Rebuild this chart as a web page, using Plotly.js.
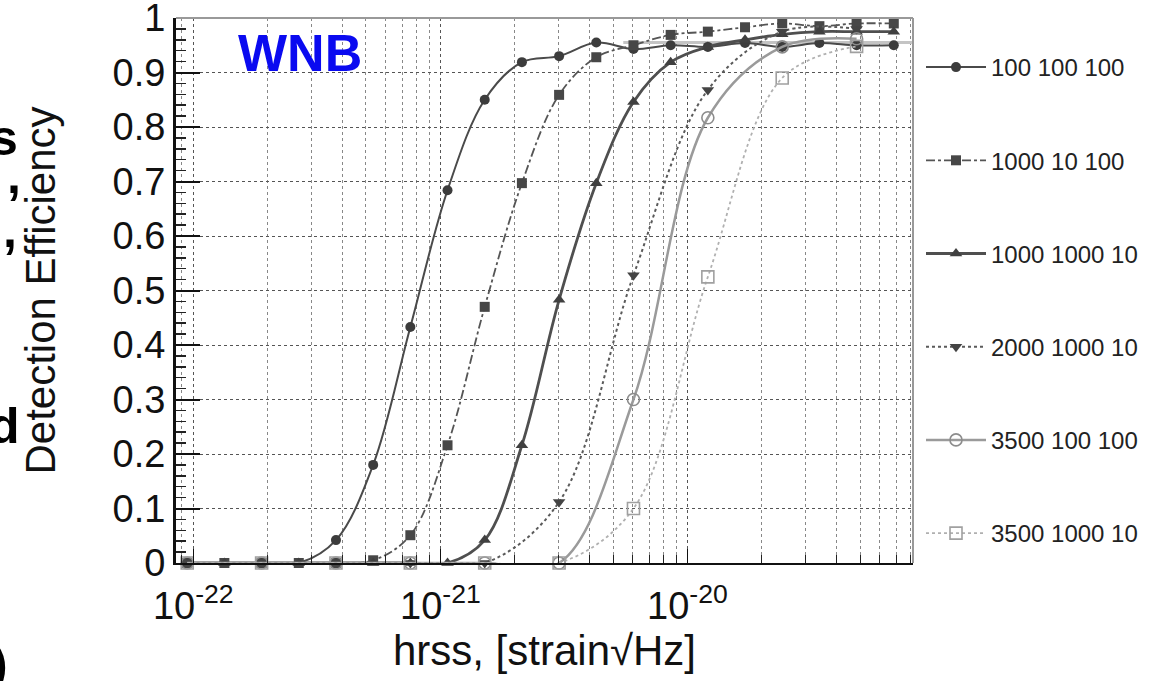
<!DOCTYPE html>
<html>
<head>
<meta charset="utf-8">
<script src="https://cdn.plot.ly/plotly-3.0.1.min.js"></script>
<style>html,body{margin:0;padding:0;background:#fff;}#chart{width:1156px;height:681px;}</style>
</head>
<body>
<div id="chart"></div>
<script>
// x positions (hrss) of the injections
const hrssAll = [9.45e-23, 1.336e-22, 1.89e-22, 2.673e-22, 3.78e-22, 5.346e-22, 7.56e-22, 1.069e-21, 1.512e-21, 2.138e-21,
                 3.024e-21, 4.277e-21, 6.048e-21, 8.553e-21, 1.2096e-20, 1.7106e-20, 2.419e-20, 3.421e-20, 4.838e-20, 6.843e-20];
const hrssEven = [9.45e-23, 1.89e-22, 3.78e-22, 7.56e-22, 1.512e-21, 3.024e-21, 6.048e-21, 1.2096e-20, 2.419e-20, 4.838e-20];

const seriesNames = ["100 100 100", "1000 10 100", "1000 1000 10", "2000 1000 10", "3500 100 100", "3500 1000 10"];

const eff_100_100_100   = [0, 0, 0, 0, 0.042, 0.18, 0.433, 0.684, 0.85, 0.919, 0.93, 0.955, 0.943, 0.95, 0.947, 0.954, 0.947, 0.954, 0.95, 0.95];
const eff_1000_10_100   = [0, 0, 0, 0, 0, 0.005, 0.051, 0.216, 0.47, 0.697, 0.859, 0.928, 0.95, 0.969, 0.975, 0.983, 0.99, 0.985, 0.99, 0.99];
const eff_1000_1000_10  = [0, 0, 0, 0, 0, 0, 0, 0, 0.042, 0.216, 0.483, 0.697, 0.846, 0.919, 0.947, 0.96, 0.97, 0.975, 0.975, 0.975];
const eff_2000_1000_10  = [0, 0, 0, 0, 0, 0.112, 0.528, 0.868, 0.975, 0.98];
const eff_3500_100_100  = [0, 0, 0, 0, 0, 0, 0.30, 0.817, 0.947, 0.962];
const eff_3500_1000_10  = [0, 0, 0, 0, 0, 0, 0.10, 0.525, 0.89, 0.948];

// light grey plateau line seen in the upper right
const plateauX = [5.5e-21, 8.1e-20];
const plateauY = [0.955, 0.955];

const xTickVals = [1e-22, 1e-21, 1e-20];
const xTickText = ["10<sup>-22</sup>", "10<sup>-21</sup>", "10<sup>-20</sup>"];
const yTickVals = [0, 0.1, 0.2, 0.3, 0.4, 0.5, 0.6, 0.7, 0.8, 0.9, 1];
const yTickText = ["0", "0.1", "0.2", "0.3", "0.4", "0.5", "0.6", "0.7", "0.8", "0.9", "1"];

const FONT = "Liberation Sans, Arial, Helvetica, sans-serif";

function mk(name, x, y, lineColor, lineWidth, dash, symbol, mColor, mSize, group) {
  const open = symbol.indexOf("open") >= 0;
  return {
    type: "scatter", mode: "lines+markers", name: name, x: x, y: y,
    legendgroup: group, cliponaxis: false,
    line: {color: lineColor, width: lineWidth, dash: dash, shape: "spline", smoothing: 1},
    marker: {symbol: symbol, size: mSize, color: mColor,
             line: {color: mColor, width: open ? 1.6 : 0}}
  };
}

const traces = [
  {type: "scatter", mode: "lines", x: plateauX, y: plateauY, showlegend: false, hoverinfo: "skip",
   line: {color: "#c4c4c4", width: 3}},
  mk(seriesNames[0], hrssAll, eff_100_100_100, "#4a4a4a", 2, "solid", "circle", "#3c3c3c", 10, "g1"),
  mk(seriesNames[1], hrssAll, eff_1000_10_100, "#555555", 1.8, "dashdot", "square", "#474747", 10, "g2"),
  mk(seriesNames[2], hrssAll, eff_1000_1000_10, "#4f4f4f", 2.8, "solid", "triangle-up", "#404040", 11, "g3"),
  mk(seriesNames[3], hrssEven, eff_2000_1000_10, "#5a5a5a", 2, "dot", "triangle-down", "#444444", 11, "g4"),
  mk(seriesNames[4], hrssEven, eff_3500_100_100, "#9a9a9a", 2.5, "solid", "circle-open", "#8c8c8c", 12, "g5"),
  mk(seriesNames[5], hrssEven, eff_3500_1000_10, "#b0b0b0", 1.8, "dot", "square-open", "#a0a0a0", 12, "g6")
];

function px2x(px) { return (px - 176) / 737; }
function py2y(py) { return (563 - py) / 545; }

const layout = {
  width: 1156, height: 681,
  paper_bgcolor: "#ffffff", plot_bgcolor: "#ffffff",
  margin: {l: 176, r: 243, t: 18, b: 118, pad: 0},
  font: {family: FONT, color: "#111111"},
  showlegend: true,
  legend: {x: px2x(921), y: py2y(45), xanchor: "left", yanchor: "top",
           font: {family: FONT, size: 24, color: "#222222"},
           itemwidth: 60, tracegroupgap: 59, bgcolor: "rgba(0,0,0,0)", borderwidth: 0},
  xaxis: {
    type: "log", range: [-22.07, -19.087],
    tickmode: "array", tickvals: xTickVals, ticktext: xTickText,
    tickfont: {family: FONT, size: 38, color: "#111"},
    ticklabelstandoff: 8, ticklabeloverflow: "allow",
    ticks: "inside", ticklen: 14, tickwidth: 1.5, tickcolor: "#111",
    showline: true, linecolor: "#111", linewidth: 2,
    showgrid: true, gridcolor: "#555", griddash: "dot", gridwidth: 1,
    minor: {dtick: "D1", showgrid: true, gridcolor: "#888", griddash: "dot", gridwidth: 1,
            ticks: "inside", ticklen: 8, tickcolor: "#222", tickwidth: 1},
    zeroline: false,
    title: {text: "hrss, [strain√Hz]",
            font: {family: FONT, size: 42, color: "#111"}, standoff: 10}
  },
  yaxis: {
    range: [0, 1],
    tickmode: "array", tickvals: yTickVals, ticktext: yTickText,
    tickfont: {family: FONT, size: 38, color: "#111"},
    ticklabeloverflow: "allow",
    ticks: "inside", ticklen: 24, tickwidth: 2, tickcolor: "#111",
    showline: true, linecolor: "#111", linewidth: 3,
    showgrid: true, gridcolor: "#555", griddash: "dot", gridwidth: 1,
    minor: {tickmode: "linear", tick0: 0, dtick: 0.02, ticks: "inside", ticklen: 10, tickcolor: "#222", tickwidth: 1.5, showgrid: false},
    zeroline: false,
    title: {text: "Detection Efficiency", font: {family: FONT, size: 42, color: "#111"}, standoff: 44}
  },
  shapes: [
    {type: "line", xref: "paper", yref: "paper", x0: 0, x1: 1, y0: 1, y1: 1, line: {color: "#999", width: 2}},
    {type: "line", xref: "paper", yref: "paper", x0: 1, x1: 1, y0: 0, y1: 1, line: {color: "#999", width: 2}}
  ],
  annotations: [
    {text: "<b>WNB</b>", xref: "paper", yref: "paper", x: px2x(300), y: py2y(53), xanchor: "center", yanchor: "middle",
     showarrow: false, font: {family: FONT, size: 52, color: "#0a0af0"}},
    {text: "<b>s</b>", xref: "paper", yref: "paper", x: px2x(20), y: py2y(138), xanchor: "right", yanchor: "middle",
     showarrow: false, font: {family: FONT, size: 50, color: "#000"}},
    {text: "<b>,</b>", xref: "paper", yref: "paper", x: px2x(23), y: py2y(176), xanchor: "right", yanchor: "middle",
     showarrow: false, font: {family: FONT, size: 50, color: "#000"}},
    {text: "<b>,</b>", xref: "paper", yref: "paper", x: px2x(19), y: py2y(230), xanchor: "right", yanchor: "middle",
     showarrow: false, font: {family: FONT, size: 50, color: "#000"}},
    {text: "<b>d</b>", xref: "paper", yref: "paper", x: px2x(22), y: py2y(426), xanchor: "right", yanchor: "middle",
     showarrow: false, font: {family: FONT, size: 50, color: "#000"}},
    {text: "<b>)</b>", xref: "paper", yref: "paper", x: px2x(10), y: py2y(664), xanchor: "right", yanchor: "middle",
     showarrow: false, font: {family: FONT, size: 50, color: "#000"}}
  ]
};

Plotly.newPlot("chart", traces, layout, {staticPlot: true, displayModeBar: false});
</script>
</body>
</html>
